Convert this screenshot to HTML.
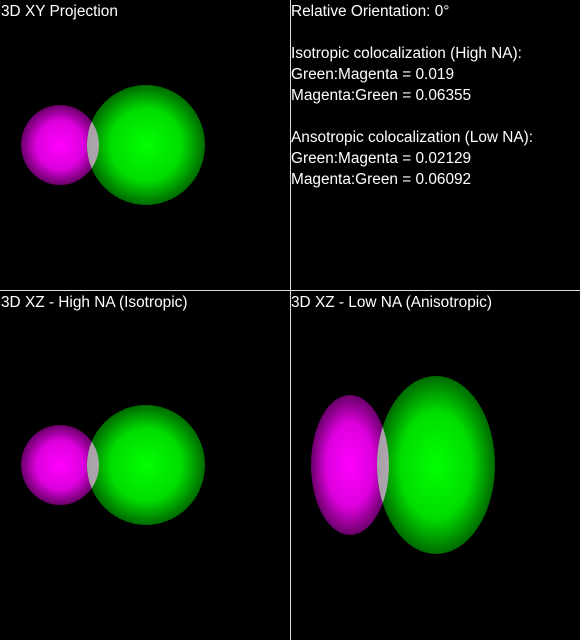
<!DOCTYPE html>
<html><head><meta charset="utf-8"><style>
body{margin:0;background:#000;width:580px;height:640px;overflow:hidden;font-family:"Liberation Sans",sans-serif}
svg{display:block}
text{fill:#fff;font-size:15.4px;font-family:"Liberation Sans",sans-serif}
</style></head><body>
<svg id="c" width="580" height="640">
<defs>
<radialGradient id="gm" cx="0.5" cy="0.5" r="0.5"><stop offset="0" stop-color="#ff00ff"/><stop offset="0.6" stop-color="#dd00dd"/><stop offset="1" stop-color="#6a006a"/></radialGradient>
<radialGradient id="gg" cx="0.5" cy="0.5" r="0.5"><stop offset="0" stop-color="#00ff00"/><stop offset="0.6" stop-color="#00dd00"/><stop offset="1" stop-color="#006a00"/></radialGradient>
</defs>
<line x1="290.5" y1="0" x2="290.5" y2="640" stroke="#ddd"/>
<line x1="0" y1="290.5" x2="580" y2="290.5" stroke="#ddd"/>
<text x="1" y="16">3D XY Projection</text>
<text x="1" y="307">3D XZ - High NA (Isotropic)</text>
<text x="291" y="307">3D XZ - Low NA (Anisotropic)</text>
<g id="info"></g>
<g id="shapes"></g>
</svg>
<script>
const infoLines = ["Relative Orientation: 0°","","Isotropic colocalization (High NA):","Green:Magenta = 0.019","Magenta:Green = 0.06355","","Ansotropic colocalization (Low NA):","Green:Magenta = 0.02129","Magenta:Green = 0.06092"];
const panelNames = ["xy","xz-high","xz-low"];
const magenta = [[60,145,39,40],[60,465,39,40],[350,465,39,70]];
const green = [[146,145,59,60],[146,465,59,60],[436,465,59,89]];
const NS="http://www.w3.org/2000/svg";
const info=document.getElementById('info');
infoLines.forEach((s,i)=>{if(!s)return;const t=document.createElementNS(NS,'text');
t.setAttribute('x',291);t.setAttribute('y',16+i*21);t.textContent=s;


info.appendChild(t);});
const g=document.getElementById('shapes');
const defs=document.querySelector('defs');
panelNames.forEach((n,i)=>{
 const m=magenta[i],gr=green[i];
 const cp=document.createElementNS(NS,'clipPath');cp.setAttribute('id','cp'+i);
 const ce=document.createElementNS(NS,'ellipse');
 ce.setAttribute('cx',m[0]);ce.setAttribute('cy',m[1]);ce.setAttribute('rx',m[2]);ce.setAttribute('ry',m[3]);
 cp.appendChild(ce);defs.appendChild(cp);
 const a=document.createElementNS(NS,'ellipse');
 a.setAttribute('cx',m[0]);a.setAttribute('cy',m[1]);a.setAttribute('rx',m[2]);a.setAttribute('ry',m[3]);a.setAttribute('fill','url(#gm)');
 
 
 g.appendChild(a);
 const b=document.createElementNS(NS,'ellipse');
 b.setAttribute('cx',gr[0]);b.setAttribute('cy',gr[1]);b.setAttribute('rx',gr[2]);b.setAttribute('ry',gr[3]);b.setAttribute('fill','url(#gg)');
 
 
 g.appendChild(b);
 const o=document.createElementNS(NS,'ellipse');
 o.setAttribute('cx',gr[0]);o.setAttribute('cy',gr[1]);o.setAttribute('rx',gr[2]);o.setAttribute('ry',gr[3]);
 o.setAttribute('fill','#c8a8c8');o.setAttribute('opacity','0.85');o.setAttribute('clip-path','url(#cp'+i+')');
 
 
 g.appendChild(o);
});
</script>
</body></html>
